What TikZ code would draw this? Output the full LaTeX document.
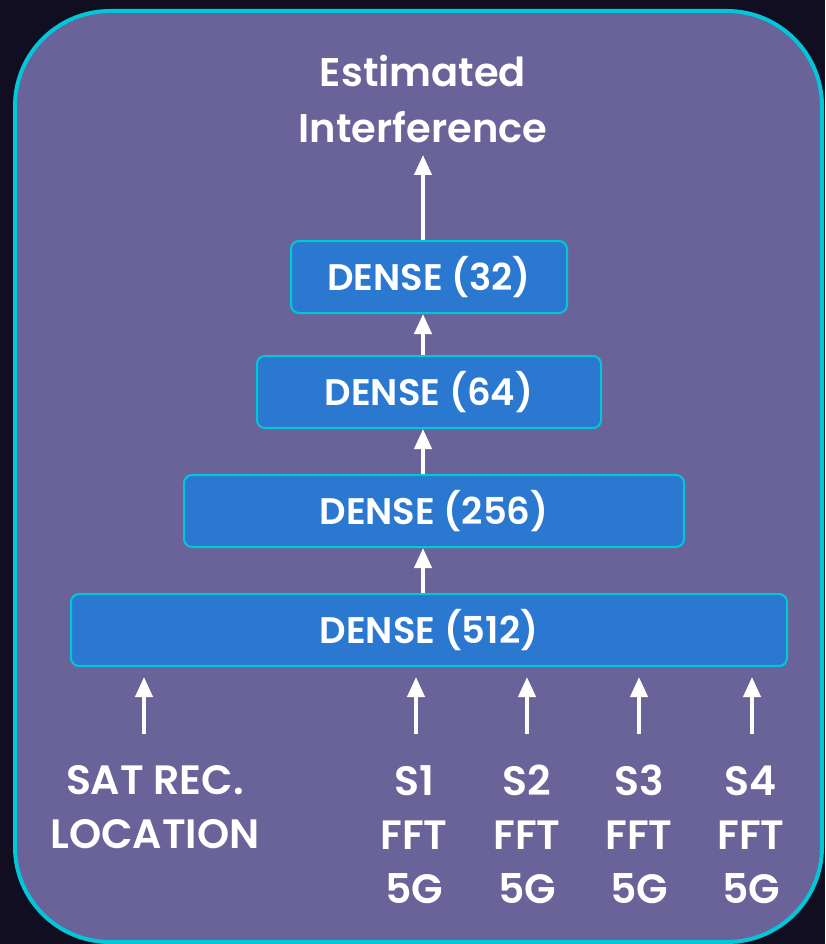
\documentclass[tikz,border=0pt]{standalone}
\usepackage{fontspec}
\setmainfont{Poppins}[BoldFont={Poppins SemiBold}]
\usetikzlibrary{arrows.meta}
\definecolor{bgdark}{HTML}{120E22}
\definecolor{panel}{HTML}{6A6399}
\definecolor{cyanb}{HTML}{00C8D8}
\definecolor{boxblue}{HTML}{2A78D0}
\tikzset{
  dense/.style={draw=cyanb, line width=2pt, fill=boxblue, rounded corners=8pt,
    text=white, font=\fontsize{37}{44}\selectfont\bfseries, inner sep=0pt},
  lbl/.style={text=white, font=\fontsize{41}{54}\selectfont\bfseries, align=center, inner sep=0pt},
  ttl/.style={text=white, font=\fontsize{40}{56}\selectfont\bfseries, align=center, inner sep=0pt},
  arr/.style={draw=white, line width=4pt, -{Triangle[width=17pt,length=20pt]}}
}
\begin{document}
\begin{tikzpicture}[x=1pt,y=-1pt]
\fill[bgdark] (0,0) rectangle (825,944);
\useasboundingbox (0,0) rectangle (825,944);
\draw[cyanb, fill=panel, line width=4pt, rounded corners=95pt] (15,11) rectangle (822,942);
% dense boxes
\node[dense, minimum width=276pt, minimum height=72pt] (d32) at (429,277) {DENSE (32)};
\node[dense, minimum width=344pt, minimum height=72pt] (d64) at (429,392) {DENSE (64)};
\node[dense, minimum width=500pt, minimum height=72pt] (d256) at (434,511) {DENSE (256)};
\node[dense, minimum width=716pt, minimum height=72pt] (d512) at (429,630) {DENSE (512)};
% title
\node[ttl, anchor=base] (title) at (423,143) {Estimated\\Interference};
\coordinate (ttip) at (423,155);
\draw[arr] (d32.north -| ttip) -- (ttip);
\draw[arr] (d64.north -| ttip) -- (d32.south -| ttip);
\draw[arr] (d256.north -| ttip) -- (d64.south -| ttip);
\draw[arr] (d512.north -| ttip) -- (d256.south -| ttip);
% inputs
\node[lbl, anchor=base] (sat) at (155,848) {SAT REC.\\LOCATION};
\node[lbl, anchor=base] (s1) at (414,903) {S1\\FFT\\5G};
\node[lbl, anchor=base] (s2) at (527,903) {S2\\FFT\\5G};
\node[lbl, anchor=base] (s3) at (639,903) {S3\\FFT\\5G};
\node[lbl, anchor=base] (s4) at (751,903) {S4\\FFT\\5G};
\coordinate (satb) at (144,734); \coordinate (satt) at (144,677);
\coordinate (s1b) at (416,734); \coordinate (s1t) at (416,677);
\coordinate (s2b) at (527,734); \coordinate (s2t) at (527,677);
\coordinate (s3b) at (639,734); \coordinate (s3t) at (639,677);
\coordinate (s4b) at (752,734); \coordinate (s4t) at (752,677);
\foreach \n in {sat,s1,s2,s3,s4}{\draw[arr] (\n b) -- (\n t);}
\end{tikzpicture}
\end{document}
